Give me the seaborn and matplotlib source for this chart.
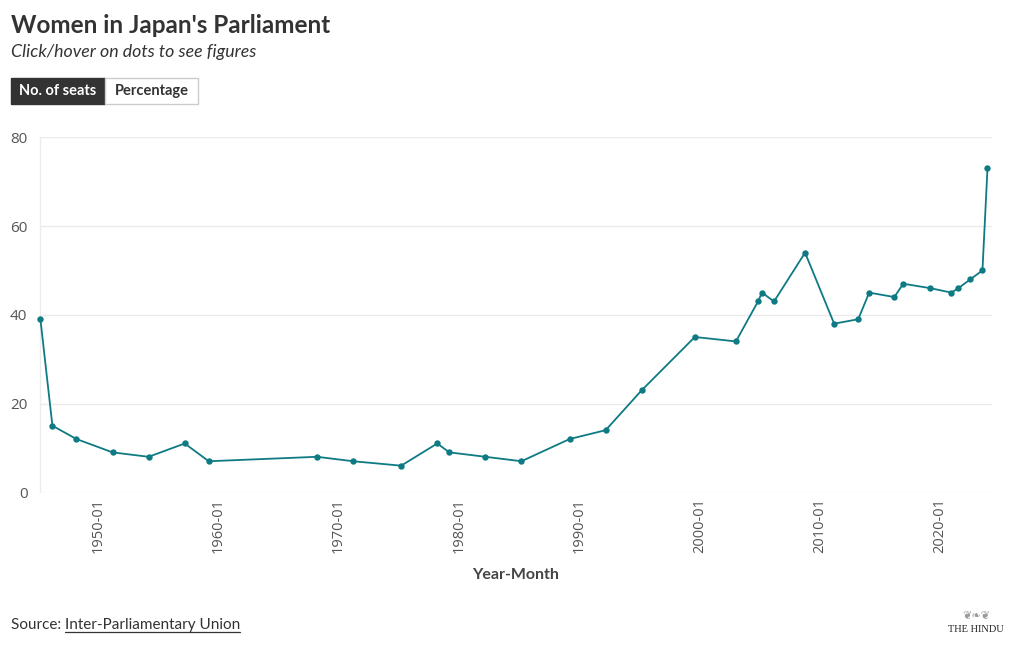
import matplotlib
matplotlib.use("Agg")
import matplotlib.pyplot as plt
import matplotlib.transforms as mtransforms
from matplotlib.patches import Rectangle
from matplotlib.lines import Line2D
import pandas as pd
import seaborn as sns

# ---- data ----
dates = ["1946-01", "1947-01", "1949-01", "1952-01", "1955-01", "1958-01",
         "1960-01", "1969-01", "1972-01", "1976-01", "1979-01", "1980-01",
         "1983-01", "1986-01", "1990-01", "1993-01", "1996-01", "2000-06",
         "2003-11", "2005-09", "2006-01", "2007-01", "2009-08", "2012-01",
         "2014-01", "2014-12", "2017-01", "2017-10", "2020-01", "2021-10",
         "2022-05", "2023-05", "2024-05", "2024-10"]
seats = [39, 15, 12, 9, 8, 11, 7, 8, 7, 6, 11, 9, 8, 7, 12, 14, 23, 35,
         34, 43, 45, 43, 54, 38, 39, 45, 44, 47, 46, 45, 46, 48, 50, 73]
x_tick_labels = ["1950-01", "1960-01", "1970-01", "1980-01",
                 "1990-01", "2000-01", "2010-01", "2020-01"]
y_ticks = [0, 20, 40, 60, 80]

df = pd.DataFrame({"Year-Month": pd.to_datetime(dates, format="%Y-%m"),
                   "Seats": seats})

sns.set_theme(style="white")
plt.rcParams["font.family"] = ["Lato", "DejaVu Sans"]

W, H = 1020, 650
fig = plt.figure(figsize=(W / 100, H / 100), dpi=100)
fig.patch.set_facecolor("white")


def fx(x):
    return x / W


def fy(y):
    return 1 - y / H


ax_l, ax_r, ax_t, ax_b = 40, 992, 137.3, 492.3
ax = fig.add_axes([fx(ax_l), fy(ax_b), fx(ax_r - ax_l), (ax_b - ax_t) / H])

teal = "#0e7a84"
sns.lineplot(data=df, x="Year-Month", y="Seats", ax=ax, color=teal,
             linewidth=1.3, marker="o", markersize=4.6, markeredgewidth=0)
for ln in ax.lines:
    ln.set_clip_on(False)
    ln.set_zorder(5)

ax.set_xlim(pd.Timestamp("1945-12-20"), pd.Timestamp("2025-02-15"))
ax.set_ylim(0, 80)
ax.set_yticks(y_ticks)
ax.set_yticklabels([str(v) for v in y_ticks])
ax.yaxis.grid(True, color="#ebebeb", linewidth=1)
ax.xaxis.grid(False)
for s in ["top", "right", "bottom"]:
    ax.spines[s].set_visible(False)
ax.spines["left"].set_color("#ececec")
ax.spines["left"].set_linewidth(1)

xt = pd.to_datetime(x_tick_labels, format="%Y-%m")
ax.set_xticks(xt)
ax.set_xticklabels(x_tick_labels, rotation=90, ha="left", va="top")
ax.tick_params(axis="x", length=45, width=0.8, color="#eeeeee", pad=-43,
               labelsize=10.5, labelcolor="#555555", direction="out")
ax.tick_params(axis="y", length=0, pad=9, labelsize=11, labelcolor="#555555")
offset = mtransforms.ScaledTranslation(2 / 100, -3 / 100, fig.dpi_scale_trans)
for lab in ax.get_xticklabels():
    lab.set_transform(lab.get_transform() + offset)
    lab.set_fontfamily(["Open Sans", "DejaVu Sans"])
for lab in ax.get_yticklabels():
    lab.set_fontfamily(["Open Sans", "DejaVu Sans"])

ax.set_ylabel("")
ax.set_xlabel("")
fig.text(fx(516), fy(575), "Year-Month", ha="center", va="center",
         fontsize=11.5, fontweight="bold", color="#444444")

# ---- header ----
fig.text(fx(11), fy(33), "Women in Japan's Parliament", ha="left",
         va="baseline", fontsize=17.5, fontweight="bold", color="#333333")
fig.text(fx(11), fy(57.5), "Click/hover on dots to see figures", ha="left",
         va="baseline", fontsize=12.8, style="italic", color="#333333")

# buttons
fig.patches.append(Rectangle((fx(11), fy(104)), fx(94), 26 / H,
                             transform=fig.transFigure, facecolor="#333333",
                             edgecolor="#333333", linewidth=1))
fig.patches.append(Rectangle((fx(105), fy(104)), fx(93), 26 / H,
                             transform=fig.transFigure, facecolor="white",
                             edgecolor="#cccccc", linewidth=1))
fig.text(fx(58), fy(91), "No. of seats", ha="center", va="center",
         fontsize=10.5, fontweight="bold", color="white")
fig.text(fx(151.5), fy(91), "Percentage", ha="center", va="center",
         fontsize=10.5, fontweight="bold", color="#333333")

# ---- footer ----
t1 = fig.text(fx(11), fy(629), "Source: ", ha="left", va="baseline",
              fontsize=11, color="#333333")
t2 = fig.text(0, 0, "Inter-Parliamentary Union", fontsize=11,
              color="#333333", va="baseline")
fig.canvas.draw()
r = fig.canvas.get_renderer()
bb1 = t1.get_window_extent(r)
t2.set_position((bb1.x1 / W, fy(629)))
fig.canvas.draw()
bb2 = t2.get_window_extent(r)
fig.lines.append(Line2D([bb2.x0 / W, bb2.x1 / W], [fy(631.5), fy(631.5)],
                        transform=fig.transFigure, color="#333333",
                        linewidth=0.9))

fig.text(fx(976), fy(629), "THE HINDU", ha="center", va="center",
         fontsize=7.5, color="#222222", family=["Liberation Serif", "DejaVu Serif"])
fig.text(fx(976), fy(616), "\u2766\u2767\u2766", ha="center", va="center",
         fontsize=8, color="#999999", family=["DejaVu Sans"])

fig.savefig("out.png", dpi=100)
